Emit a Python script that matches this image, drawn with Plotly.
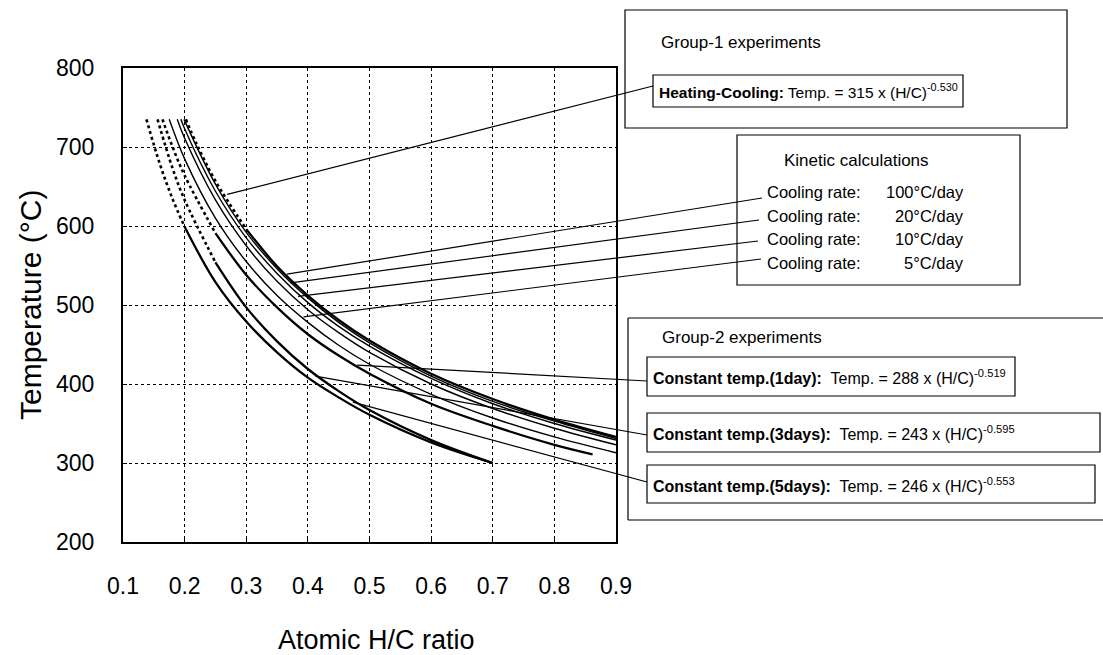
import plotly.graph_objects as go

# ---------------- data ----------------
x_ticks = [0.1, 0.2, 0.3, 0.4, 0.5, 0.6, 0.7, 0.8, 0.9]
y_ticks = [200, 300, 400, 500, 600, 700, 800]

# Group-1 experiment (heating-cooling)
heat_x = [0.202, 0.22, 0.25, 0.30, 0.35, 0.40, 0.45, 0.50, 0.60, 0.70, 0.80, 0.90]
heat_T = [735, 703, 657, 596, 549, 512, 481, 455, 413, 381, 355, 333]

# Group-2 experiments (constant temperature)
day1_x = [0.164, 0.18, 0.20, 0.25, 0.30, 0.35, 0.40, 0.45, 0.50, 0.60, 0.70, 0.80, 0.862]
day1_T = [735, 701, 664, 591, 538, 497, 463, 436, 413, 375, 347, 323, 311]
day3_x = [0.156, 0.18, 0.20, 0.25, 0.30, 0.35, 0.40, 0.45, 0.50, 0.60, 0.70]
day3_T = [735, 674, 633, 554, 497, 454, 419, 391, 367, 329, 300]
day5_x = [0.138, 0.16, 0.18, 0.20, 0.25, 0.30, 0.35, 0.40, 0.45, 0.50, 0.60, 0.70]
day5_T = [735, 678, 635, 599, 529, 479, 440, 408, 383, 361, 326, 300]

# Kinetic calculations (cooling rates)
k5_x = [0.175, 0.20, 0.25, 0.30, 0.35, 0.40, 0.45, 0.50, 0.60, 0.70, 0.80, 0.90]
k5_T = [735, 685, 610, 555, 512, 478, 449, 425, 387, 357, 333, 313]
k10_x = [0.188, 0.20, 0.25, 0.30, 0.35, 0.40, 0.45, 0.50, 0.60, 0.70, 0.80, 0.90]
k10_T = [735, 711, 633, 575, 530, 494, 465, 440, 400, 369, 344, 323]
k20_x = [0.194, 0.20, 0.25, 0.30, 0.35, 0.40, 0.45, 0.50, 0.60, 0.70, 0.80, 0.90]
k20_T = [735, 723, 644, 585, 540, 503, 473, 448, 407, 375, 350, 329]
k100_x = [0.199, 0.25, 0.30, 0.35, 0.40, 0.45, 0.50, 0.60, 0.70, 0.80, 0.90]
k100_T = [735, 653, 592, 546, 509, 478, 452, 410, 378, 353, 331]

# leader-line anchor points on the curves (H/C, Temp)
lead_names = ["heat", "k100", "k20", "k10", "k5", "day1", "day3", "day5"]
lead_hc = [0.269, 0.366, 0.372, 0.384, 0.393, 0.480, 0.412, 0.473]
lead_T = [640, 539, 528, 511, 485, 424, 410, 377]

rate_labels = ["100°C/day", "20°C/day", "10°C/day", "5°C/day"]
group2_labels = [
    ("Constant temp.(1day):", "288", "-0.519"),
    ("Constant temp.(3days):", "243", "-0.595"),
    ("Constant temp.(5days):", "246", "-0.553"),
]

# ---------------- layout geometry (pixels) ----------------
W, H = 1103, 655
L, R, T, B = 123, 616, 68, 542
FONT = "Liberation Sans, Arial, sans-serif"


def px(xp):
    return (xp - L) / (R - L)


def py(yp):
    return (B - yp) / (B - T)


def dx(v):
    return (v - 0.1) / 0.8


def dy(v):
    return (v - 200) / 600


fig = go.Figure()

# experimental curves: dotted in the steep upper part, thick solid below
for xs, ts in [(heat_x, heat_T), (day1_x, day1_T), (day3_x, day3_T), (day5_x, day5_T)]:
    k = next(i for i, t in enumerate(ts) if t < 620)
    fig.add_trace(go.Scatter(x=xs[:k + 1], y=ts[:k + 1], mode="lines",
                             line=dict(color="black", width=2.6, dash="dot", shape="spline"),
                             showlegend=False, hoverinfo="skip"))
    fig.add_trace(go.Scatter(x=xs[k:], y=ts[k:], mode="lines",
                             line=dict(color="black", width=2.3, shape="spline"),
                             showlegend=False, hoverinfo="skip"))

# kinetic curves: thin solid
for xs, ts in [(k5_x, k5_T), (k10_x, k10_T), (k20_x, k20_T), (k100_x, k100_T)]:
    fig.add_trace(go.Scatter(x=xs, y=ts, mode="lines",
                             line=dict(color="black", width=1.4, shape="spline"),
                             showlegend=False, hoverinfo="skip"))

shapes = []
line_k = dict(color="black", width=1.2)

# leader lines (start on the curve, end at the label boxes)
lead_end = {
    "heat": (653, 86), "k100": (762, 198), "k20": (759, 220), "k10": (758, 241),
    "k5": (761, 259), "day1": (647, 381), "day3": (647, 435), "day5": (647, 482),
}
for name, hcv, tv in zip(lead_names, lead_hc, lead_T):
    ex, ey = lead_end[name]
    shapes.append(dict(type="line", xref="paper", yref="paper",
                       x0=dx(hcv), y0=dy(tv), x1=px(ex), y1=py(ey), line=line_k))


def rect(x0, y0, x1, y1, w=1.2):
    shapes.append(dict(type="rect", xref="paper", yref="paper",
                       x0=px(x0), y0=py(y0), x1=px(x1), y1=py(y1),
                       line=dict(color="black", width=w), fillcolor="rgba(0,0,0,0)"))


def seg(x0, y0, x1, y1, w=1.2):
    shapes.append(dict(type="line", xref="paper", yref="paper",
                       x0=px(x0), y0=py(y0), x1=px(x1), y1=py(y1),
                       line=dict(color="black", width=w)))


# Group-1 boxes
rect(625, 10, 1067, 128)
rect(653, 75, 963, 107)
# Kinetic box
rect(737, 135, 1020, 285)
# Group-2 boxes (outer box open on the right, runs off the page)
seg(628, 318, 1110, 318)
seg(628, 318, 628, 520)
seg(628, 520, 1110, 520)
rect(647, 357, 1015, 396)
rect(647, 413, 1100, 452)
rect(647, 465, 1095, 503)

ann = []


def text(xp, yp, s, size=17, anchor="left", angle=0):
    ann.append(dict(xref="paper", yref="paper", x=px(xp), y=py(yp), text=s,
                    showarrow=False, xanchor=anchor, yanchor="middle", textangle=angle,
                    font=dict(family=FONT, size=size, color="black")))


text(659, 42, "Group-1 experiments", 17)
text(657, 91, "<b>Heating-Cooling:</b> Temp. = 315 x (H/C)<sup>-0.530</sup>", 15.5)
text(782, 160, "Kinetic calculations", 17)
for i, lab in enumerate(rate_labels):
    yy = 192 + i * 23.5
    text(765, yy, "Cooling rate:", 16.5)
    text(966, yy, lab, 16.5, anchor="right")
text(660, 337, "Group-2 experiments", 17)
for (lab, coef, expo), yy in zip(group2_labels, [377, 433, 485]):
    text(651, yy, "<b>%s</b>  Temp. = %s x (H/C)<sup>%s</sup>" % (lab, coef, expo), 16)

# axis titles
text(30, 305, "Temperature (°C)", 30, anchor="center", angle=-90)
text(376, 640, "Atomic H/C ratio", 27, anchor="center")

axis_common = dict(showline=True, mirror=True, linecolor="black", linewidth=2,
                   showgrid=True, gridcolor="black", gridwidth=1, griddash="dot",
                   zeroline=False, ticks="inside", tickcolor="black", ticklen=4,
                   tickfont=dict(family=FONT, size=23, color="black"))

fig.update_layout(
    width=W, height=H,
    margin=dict(l=L, r=W - R, t=T, b=H - B, autoexpand=False),
    paper_bgcolor="white", plot_bgcolor="white",
    xaxis=dict(range=[0.1, 0.9], tickvals=x_ticks, ticktext=[f"{v:.1f}" for v in x_ticks],
               ticklabelstandoff=22, **axis_common),
    yaxis=dict(range=[200, 800], tickvals=y_ticks, ticktext=[str(v) for v in y_ticks],
               ticklabelstandoff=22, **axis_common),
    shapes=shapes, annotations=ann,
)

fig.write_html("out.html")
